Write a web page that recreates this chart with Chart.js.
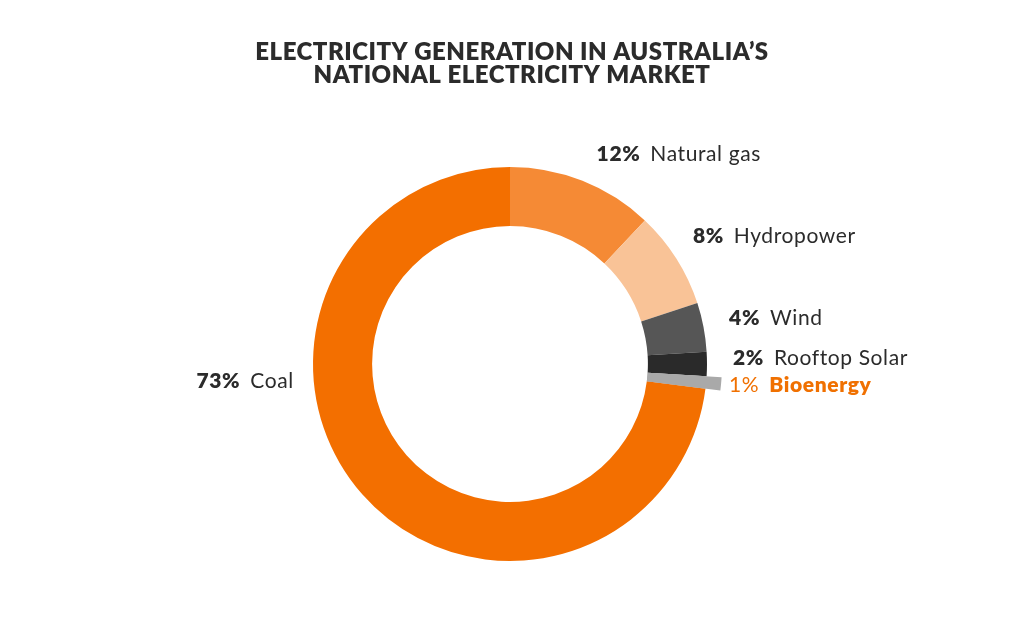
<!DOCTYPE html>
<html>
<head>
<meta charset="utf-8">
<title>Electricity generation in Australia's NEM</title>
<script src="https://cdn.jsdelivr.net/npm/chart.js@4.4.0/dist/chart.umd.min.js"></script>
<style>
    html, body { margin: 0; padding: 0; background: #fff; }
    #wrap { width: 1024px; height: 628px; position: relative; }
</style>
</head>
<body>
<div id="wrap"><canvas id="genChart"></canvas></div>
<script>
// data
const titleLines = ['ELECTRICITY GENERATION IN AUSTRALIA\u2019S', 'NATIONAL ELECTRICITY MARKET'];
const sources = ['Natural gas', 'Hydropower', 'Wind', 'Rooftop Solar', 'Bioenergy', 'Coal'];
const shares = [12, 8, 4, 2, 1, 73];
const sliceColors = ['#f58a35', '#f9c397', '#565656', '#2a2a2a', '#a9a9a9', '#f36f00'];
const labelColors = ['#2b2b2b', '#2b2b2b', '#2b2b2b', '#2b2b2b', '#f07000', '#2b2b2b'];

// label layout: nudge from the point just outside each slice, and which part is bold
const labelNudge = [[6, -6], [-2, -10], [4, -5], [4, -6], [1, 1], [-52, -128]];
const boldValue = [true, true, true, true, false, true];
const boldName = [false, false, false, false, true, false];
const sliceExtend = [0, 0, 0, 0, 15, 0];

const FONT = 'Lato, "Open Sans", sans-serif';

const GenChart = {
    chart: null,

    init(canvasId) {
        const ctx = document.getElementById(canvasId);
        this.chart = new Chart(ctx, this.buildConfig());
    },

    titlePlugin: {
        id: 'bigTitle',
        afterDraw(chart) {
            const ctx = chart.ctx;
            ctx.save();
            ctx.fillStyle = '#2b2b2b';
            ctx.font = '800 24px ' + FONT;
            ctx.letterSpacing = '0.5px';
            ctx.textAlign = 'center';
            ctx.textBaseline = 'middle';
            titleLines.forEach((line, i) => {
                ctx.fillText(line, 512, 52 + i * 23);
            });
            ctx.restore();
        }
    },

    labelPlugin: {
        id: 'sliceLabels',
        afterDatasetsDraw(chart) {
            const ctx = chart.ctx;
            const meta = chart.getDatasetMeta(0);

            // the small slice that sticks out past the ring
            meta.data.forEach((arc, i) => {
                if (!sliceExtend[i]) return;
                const r = arc.outerRadius;
                arc.outerRadius = r + sliceExtend[i];
                arc.draw(ctx);
                arc.outerRadius = r;
            });

            ctx.save();
            ctx.textBaseline = 'middle';
            ctx.letterSpacing = '0.6px';
            meta.data.forEach((arc, i) => {
                const mid = (arc.startAngle + arc.endAngle) / 2;
                const R = arc.outerRadius + 22;
                const x = arc.x + Math.cos(mid) * R + labelNudge[i][0];
                const y = arc.y + Math.sin(mid) * R + labelNudge[i][1];

                const valText = shares[i] + '%';
                const valFont = (boldValue[i] ? '800 ' : '400 ') + '21px ' + FONT;
                const nameFont = (boldName[i] ? '800 ' : '400 ') + '21px ' + FONT;
                ctx.font = valFont;
                const w1 = ctx.measureText(valText).width;
                ctx.font = nameFont;
                const w2 = ctx.measureText(sources[i]).width;
                const gap = 10;
                const leftSide = Math.cos(mid) < 0;
                const startX = leftSide ? x - (w1 + gap + w2) : x;

                ctx.textAlign = 'left';
                ctx.fillStyle = labelColors[i];
                ctx.font = valFont;
                ctx.fillText(valText, startX, y);
                ctx.font = nameFont;
                ctx.fillText(sources[i], startX + w1 + gap, y);
            });
            ctx.restore();
        }
    },

    buildConfig() {
        return {
            type: 'doughnut',
            data: {
                labels: sources,
                datasets: [{
                    data: shares,
                    backgroundColor: sliceColors,
                    borderWidth: 0
                }]
            },
            options: {
                responsive: true,
                maintainAspectRatio: false,
                animation: false,
                radius: 197,
                cutout: '70%',
                layout: { padding: { top: 100, bottom: 0, left: 0, right: 4 } },
                plugins: {
                    legend: { display: false },
                    title: { display: false },
                    tooltip: { enabled: false }
                }
            },
            plugins: [this.titlePlugin, this.labelPlugin]
        };
    }
};

GenChart.init('genChart');
</script>
</body>
</html>
